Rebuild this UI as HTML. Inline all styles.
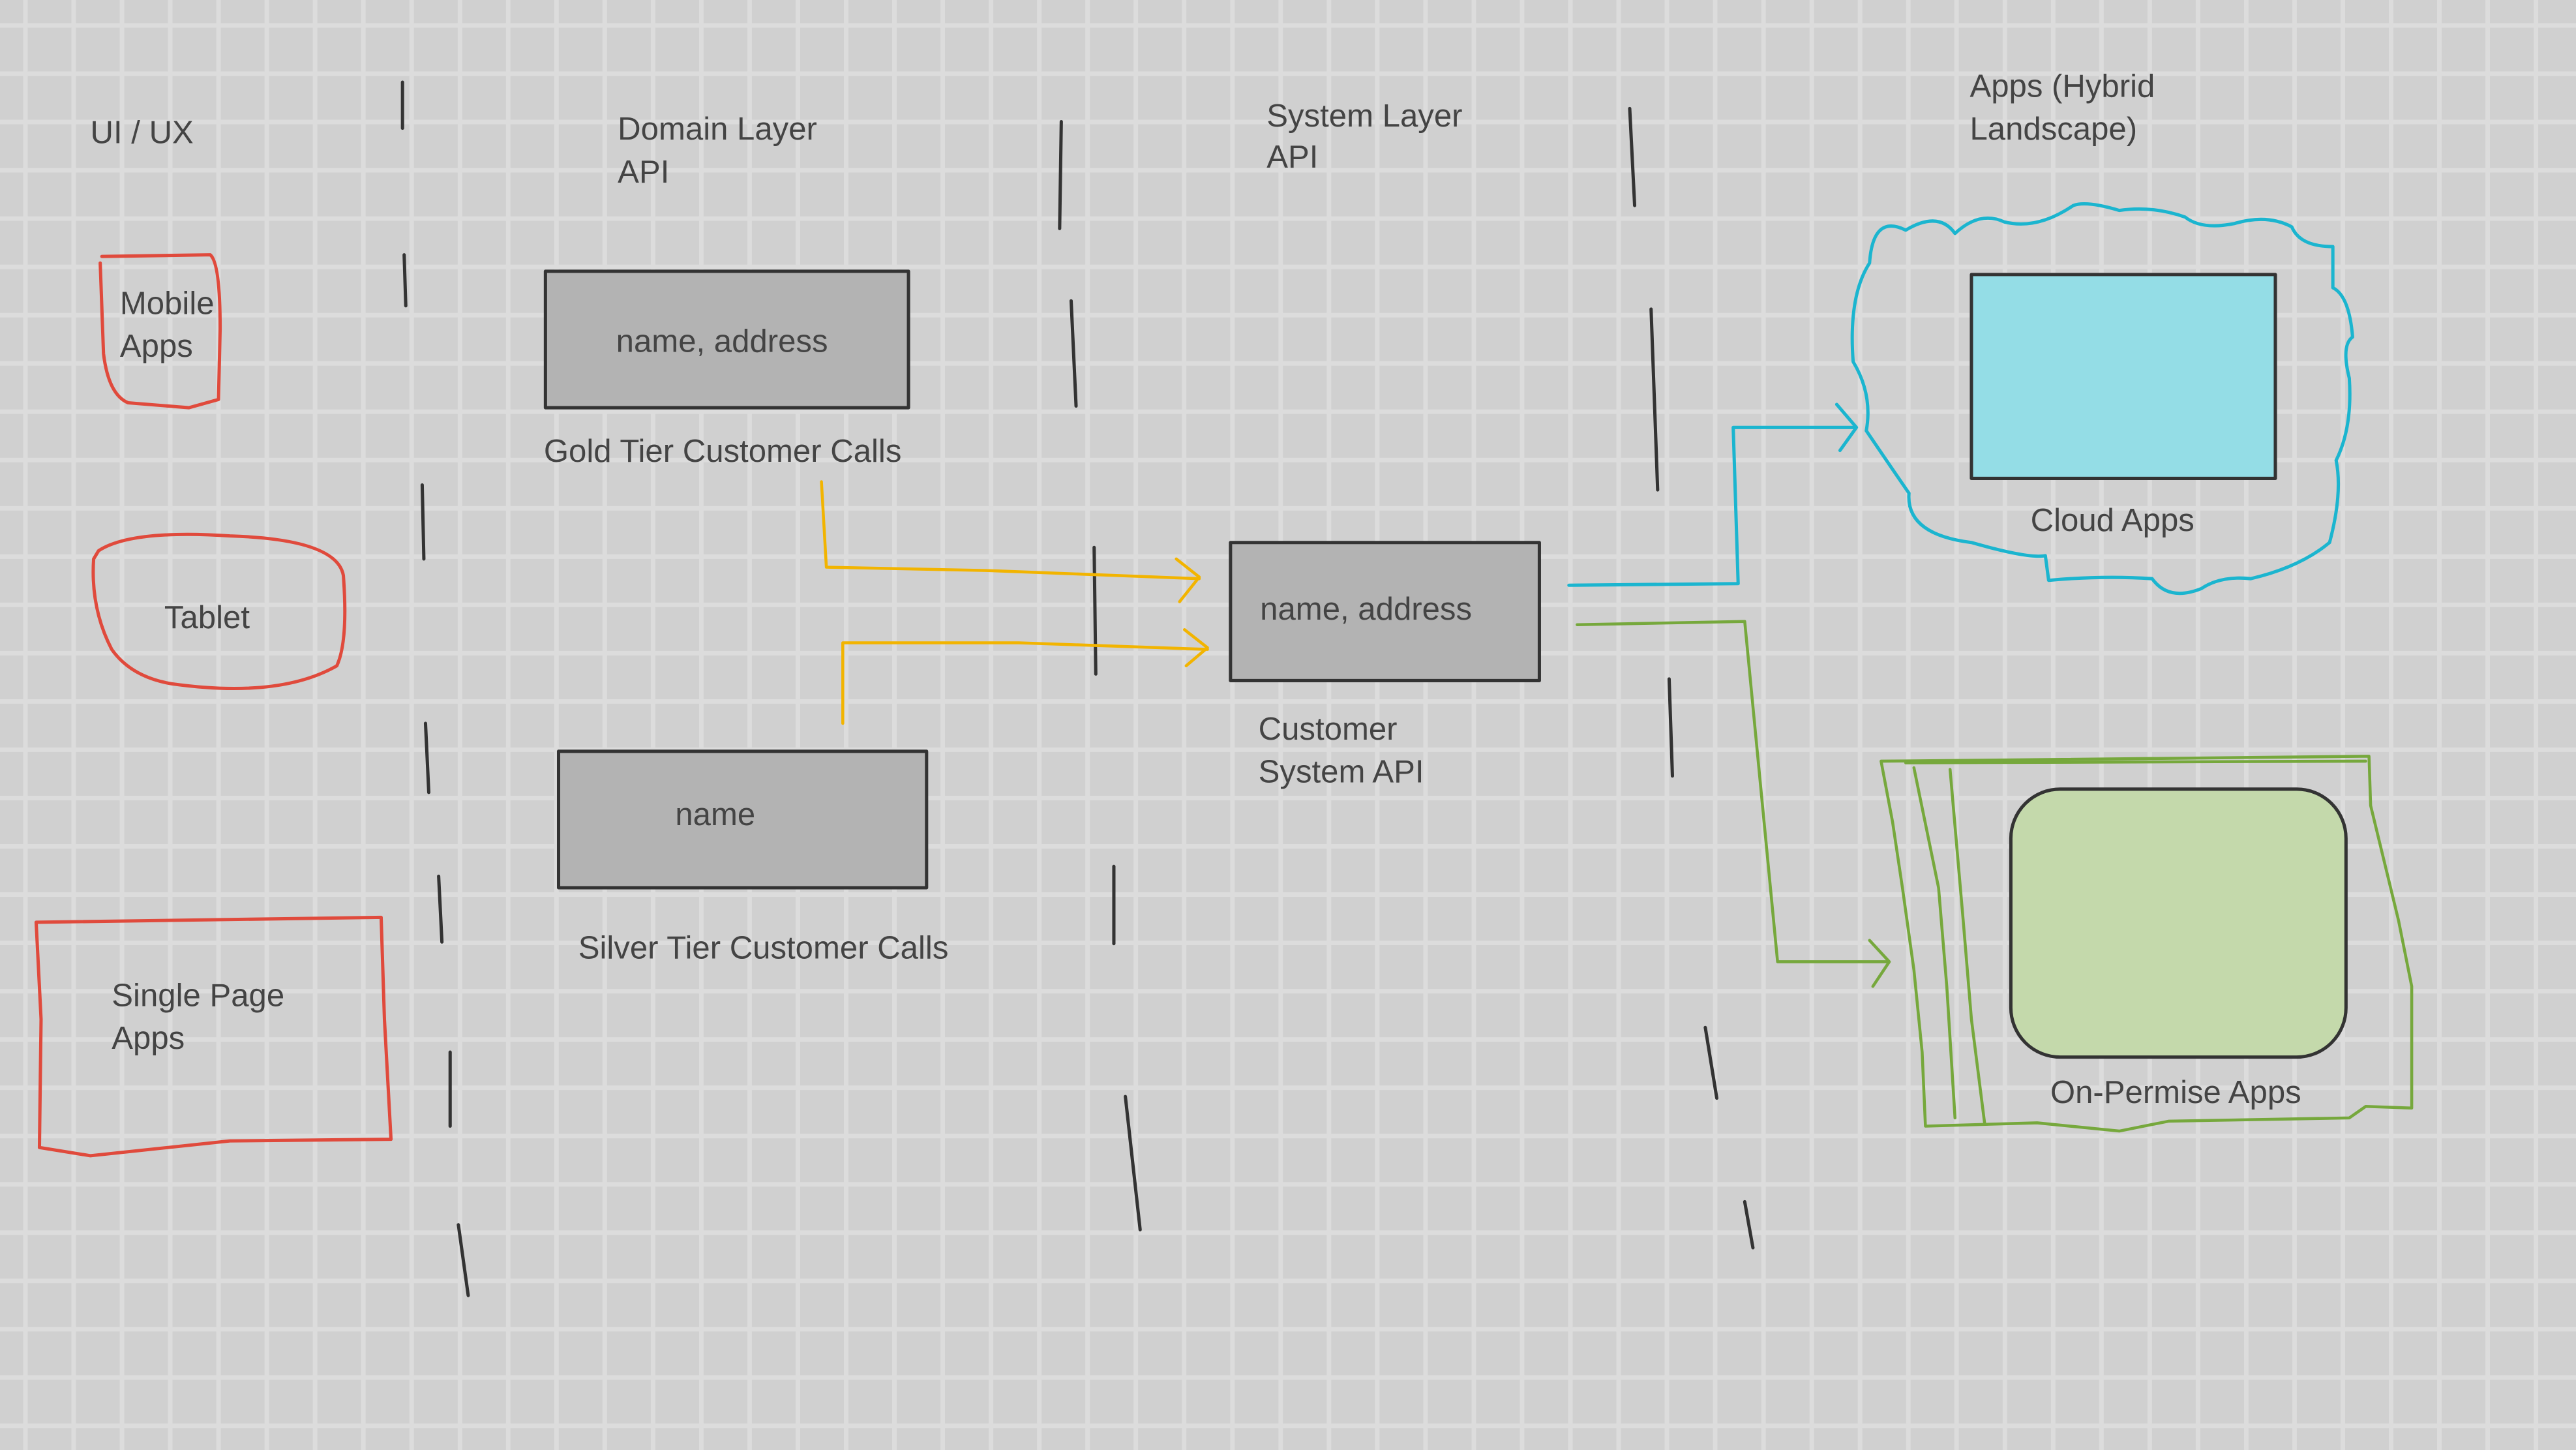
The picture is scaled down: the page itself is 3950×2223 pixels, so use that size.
<!DOCTYPE html>
<html><head><meta charset="utf-8"><style>
html,body{margin:0;padding:0}
body{width:3950px;height:2223px;overflow:hidden;background-color:#d0d0d0;
background-image:linear-gradient(to right,#dcdcdc 0,#dcdcdc 7px,transparent 7px),linear-gradient(to bottom,#dcdcdc 0,#dcdcdc 7px,transparent 7px);
background-size:74.04px 74.04px;background-position:35.5px 35.5px;}
svg{position:absolute;left:0;top:0}
text{font-family:"Liberation Sans",sans-serif;font-size:19.5px;fill:#444}
</style></head><body>
<svg width="3950" height="2223" viewBox="0 0 1568 882" preserveAspectRatio="none">
<g fill="none" stroke-linecap="round" stroke-linejoin="round">
<!-- black dashes -->
<g stroke="#333" stroke-width="2">
<path d="M245 50 L245 78"/><path d="M246 155 L247 186"/><path d="M257 295 L258 340"/><path d="M259 440 L261 482"/><path d="M267 533 L269 573"/><path d="M274 640 L274 685"/><path d="M279 745 L285 788"/>
<path d="M646 74 L645 139"/><path d="M652 183 L655 247"/><path d="M666 333 L667 410"/><path d="M678 527 L678 574"/><path d="M685 667 L694 748"/>
<path d="M992 66 L995 125"/><path d="M1005 188 L1009 298"/><path d="M1016 413 L1018 472"/><path d="M1038 625 L1045 668"/><path d="M1062 731 L1067 759"/>
</g>
<!-- red shapes -->
<g stroke="#e04a3c" stroke-width="2">
<path d="M62 156 L128 155 Q134 160 134 200 L133 243 L115 248 L78 245 Q66 240 63 215 L61 160"/>
<path d="M60 335 Q80 322 140 326 Q205 328 209 350 Q212 390 205 405 Q170 425 105 416 Q80 412 68 395 Q55 370 57 340 Z"/>
<path d="M22 561 L232 558 L234 620 L238 693 L140 694 L55 703 L24 698 L25 620 L22 561"/>
</g>
<!-- gray boxes -->
<g stroke="#333" stroke-width="2" fill="#b3b3b3">
<rect x="332" y="165" width="221" height="83"/>
<rect x="340" y="457" width="224" height="83"/>
<rect x="749" y="330" width="188" height="84"/>
</g>
<!-- yellow arrows -->
<g stroke="#f2b400" stroke-width="1.8">
<path d="M500 293 L503 345 L600 347 L730 352"/><path d="M716 340 L730 351 L718 366"/>
<path d="M513 440 L513 391 L620 391 L735 395"/><path d="M721 383 L735 394 L722 405"/>
</g>
<!-- cyan -->
<g stroke="#1bb5cf" stroke-width="2">
<path d="M955 356 L1058 355 L1055 260 L1128 260"/><path d="M1118 246 L1130 260 L1120 274"/>
<path d="M1160 140 Q1140 130 1138 160 Q1125 180 1128 220 Q1140 240 1136 262 Q1155 290 1162 300 Q1160 325 1200 330 Q1235 340 1245 338 L1247 353 Q1280 350 1310 352 Q1320 366 1340 358 Q1352 350 1370 352 Q1400 345 1418 330 Q1426 300 1422 280 Q1432 260 1430 230 Q1425 210 1432 205 Q1430 180 1420 175 L1420 150 Q1400 150 1395 138 Q1380 130 1360 136 Q1340 140 1330 132 Q1310 125 1290 128 Q1270 122 1262 125 Q1240 140 1220 135 Q1205 128 1190 142 Q1180 128 1160 140 Z"/>
</g>
<rect x="1200" y="167" width="185" height="124" fill="#94dde6" stroke="#333" stroke-width="2"/>
<!-- green -->
<g stroke="#76a83c" stroke-width="1.8">
<path d="M960 380 L1062 378 L1082 585 L1148 585"/><path d="M1138 572 L1150 585 L1140 600"/>
<path d="M1145 463 L1250 462 L1442 460 L1443 490 L1460 560 L1468 600 L1468 674 L1440 673 L1430 680 L1320 682 L1290 688 L1240 683 L1172 685 L1170 640 L1165 590 L1158 540 L1152 500 L1145 463"/>
<path d="M1165 467 L1180 540 L1185 600 L1190 680"/>
<path d="M1187 468 L1195 560 L1200 620 L1208 683"/>
<path d="M1160 464 L1440 463"/>
</g>
<rect x="1224" y="480" width="204" height="163" rx="30" fill="#c4d9ab" stroke="#333" stroke-width="2"/>
</g>
<text x="55" y="87">UI / UX</text>
<text x="376" y="85">Domain Layer</text><text x="376" y="111">API</text>
<text x="771" y="77">System Layer</text><text x="771" y="102">API</text>
<text x="1199" y="59">Apps (Hybrid</text><text x="1199" y="85">Landscape)</text>
<text x="73" y="191">Mobile</text><text x="73" y="217">Apps</text>
<text x="100" y="382">Tablet</text>
<text x="68" y="612">Single Page</text><text x="68" y="638">Apps</text>
<text x="375" y="214">name, address</text>
<text x="331" y="281">Gold Tier Customer Calls</text>
<text x="411" y="502">name</text>
<text x="352" y="583">Silver Tier Customer Calls</text>
<text x="767" y="377">name, address</text>
<text x="766" y="450">Customer</text><text x="766" y="476">System API</text>
<text x="1236" y="323">Cloud Apps</text>
<text x="1248" y="671">On-Permise Apps</text>
</svg>
</body></html>
